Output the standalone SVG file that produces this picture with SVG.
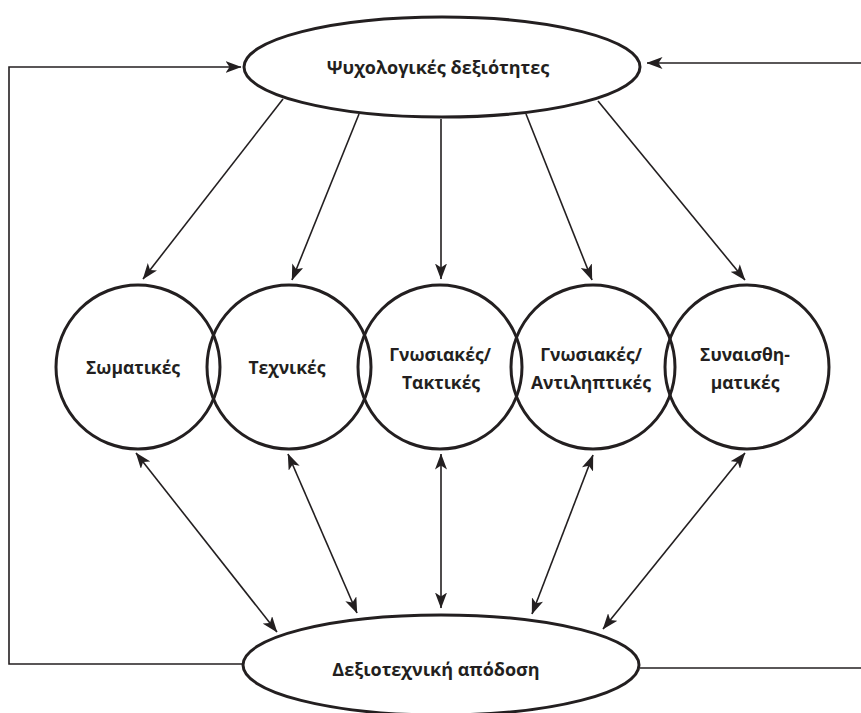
<svg xmlns="http://www.w3.org/2000/svg" width="861" height="713" viewBox="0 0 861 713">
<style>
  .shape { fill: none; stroke: #231f20; stroke-width: 3; }
  .conn { fill: none; stroke: #231f20; stroke-width: 1.6; }
  .lbl { font-family: "Open Sans", "Liberation Sans", sans-serif; font-weight: 700; font-size: 17.5px; fill: #231f20; text-anchor: middle; }
  .big { font-size: 18px; }
</style>
<defs>
  <marker id="ah" markerUnits="userSpaceOnUse" viewBox="0 0 16 12" refX="15.5" refY="6" markerWidth="16" markerHeight="12" orient="auto-start-reverse">
    <path d="M0,0 L16,6 L0,12 L4,6 z" fill="#231f20"/>
  </marker>
</defs>
<rect width="861" height="713" fill="#ffffff"/>
<g id="connectors">
  <polyline class="conn" points="243,664 9,664 9,67 241,67" marker-end="url(#ah)"/>
  <polyline class="conn" points="861,63 647,63" marker-end="url(#ah)"/>
  <line class="conn" x1="640" y1="668" x2="861" y2="668"/>
  <line class="conn" x1="283" y1="99" x2="143" y2="279" marker-end="url(#ah)"/>
  <line class="conn" x1="359" y1="114" x2="292" y2="280" marker-end="url(#ah)"/>
  <line class="conn" x1="441" y1="119" x2="441" y2="279" marker-end="url(#ah)"/>
  <line class="conn" x1="526" y1="114" x2="592" y2="280" marker-end="url(#ah)"/>
  <line class="conn" x1="598" y1="101" x2="745" y2="280" marker-end="url(#ah)"/>
  <line class="conn" x1="136" y1="453" x2="277" y2="632" marker-start="url(#ah)" marker-end="url(#ah)"/>
  <line class="conn" x1="288" y1="454" x2="357" y2="613" marker-start="url(#ah)" marker-end="url(#ah)"/>
  <line class="conn" x1="441" y1="454" x2="441" y2="608" marker-start="url(#ah)" marker-end="url(#ah)"/>
  <line class="conn" x1="593" y1="455" x2="532" y2="614" marker-start="url(#ah)" marker-end="url(#ah)"/>
  <line class="conn" x1="745" y1="453" x2="603" y2="629" marker-start="url(#ah)" marker-end="url(#ah)"/>
</g>
<g id="node-psychological">
  <ellipse class="shape" cx="442" cy="67" rx="198" ry="50" style="fill:#ffffff"/>
  <text class="lbl big" x="438" y="74">Ψυχολογικές δεξιότητες</text>
</g>
<g id="node-performance">
  <ellipse class="shape" cx="441" cy="665" rx="198" ry="50" style="fill:#ffffff"/>
  <text class="lbl big" x="436" y="676">Δεξιοτεχνική απόδοση</text>
</g>
<g id="node-somatic">
  <circle class="shape" cx="138" cy="367" r="82"/>
  <text class="lbl" x="133" y="374">Σωματικές</text>
</g>
<g id="node-technical">
  <circle class="shape" cx="289" cy="367" r="82"/>
  <text class="lbl" x="287" y="374">Τεχνικές</text>
</g>
<g id="node-tactical">
  <circle class="shape" cx="440" cy="367" r="82"/>
  <text class="lbl" x="440" y="361">Γνωσιακές/</text>
  <text class="lbl" x="441" y="389">Τακτικές</text>
</g>
<g id="node-perceptual">
  <circle class="shape" cx="593" cy="367" r="82"/>
  <text class="lbl" x="591" y="361">Γνωσιακές/</text>
  <text class="lbl" x="591" y="389">Αντιληπτικές</text>
</g>
<g id="node-emotional">
  <circle class="shape" cx="747" cy="367" r="82"/>
  <text class="lbl" x="745" y="361">Συναισθη-</text>
  <text class="lbl" x="745" y="389">ματικές</text>
</g>
</svg>
